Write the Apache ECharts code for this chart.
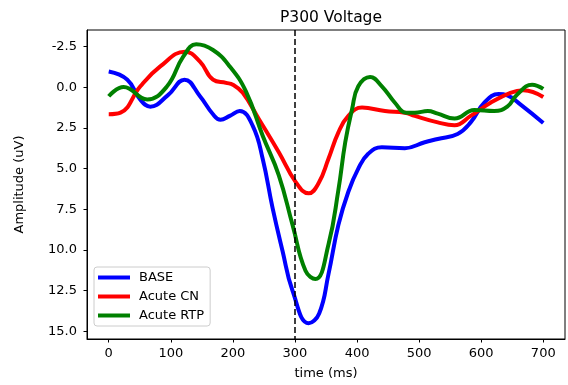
<!DOCTYPE html>
<html>
<head>
<meta charset="utf-8">
<script src="https://cdn.jsdelivr.net/npm/echarts@6/dist/echarts.min.js"></script>
<style>html,body{margin:0;padding:0;background:#fff}#c{width:568px;height:385px}</style>
</head>
<body>
<div id="c"></div>
<script>
const baseTimes = [0,30,50,67,95,122,147,168,180,195,211,232,248,264,280,296,322,339,354,370,386,402,418,440,477,509,530,562,583,605,628,642,663,700];
const baseVals  = [-0.97,-0.47,0.72,1.19,0.5,-0.47,0.55,1.66,2.0,1.76,1.46,2.37,4.39,7.43,10.06,12.49,14.5,13.9,11.48,8.45,6.42,5.0,4.09,3.68,3.74,3.38,3.18,2.87,2.16,0.95,0.42,0.5,1.05,2.2];
const cnTimes = [0,19,51,83,123,147,168,189,200,216,242,274,301,322,338,354,370,386,408,445,477,493,530,557,583,615,647,668,700];
const cnVals  = [1.66,1.56,-0.06,-1.28,-2.19,-1.58,-0.47,-0.27,-0.16,0.34,1.96,3.99,5.81,6.52,5.9,4.39,2.77,1.76,1.25,1.46,1.56,1.76,2.16,2.33,1.76,0.95,0.34,0.18,0.6];
const rtpTimes = [0,24,62,94,120,141,168,195,221,248,274,296,317,333,354,370,381,392,402,421,440,461,479,493,514,530,557,589,621,642,658,682,700];
const rtpVals  = [0.55,-0.02,0.75,-0.06,-1.88,-2.64,-2.29,-1.28,0.25,2.98,5.41,8.44,11.28,11.79,9.66,6.3,3.38,1.35,-0.06,-0.63,-0.06,0.95,1.56,1.56,1.46,1.62,1.92,1.4,1.46,1.19,0.44,-0.16,0.1];
const xTicks = [0,100,200,300,400,500,600,700];
const yTicks = [-2.5,0,2.5,5,7.5,10,12.5,15];
const markerTime = 300;

const font = 'DejaVu Sans';
const chart = echarts.init(document.getElementById('c'), null, {renderer:'canvas'});
function mk(name, ts, vals, color){
  return {name, type:'line', smooth:0.45, showSymbol:false, symbol:'none',
    data: ts.map((t,i)=>[t, vals[i]]),
    lineStyle:{color, width:4}, itemStyle:{color}, z:3};
}
const s1 = mk('BASE', baseTimes, baseVals, '#0000ff');
s1.markLine = {silent:true, symbol:'none', label:{show:false},
  lineStyle:{color:'#000', type:[6,3], width:1.5},
  data:[{xAxis: markerTime}]};
chart.setOption({
  animation:false,
  title:{text:'P300 Voltage', left:326, textAlign:'center', top:5,
    textStyle:{fontFamily:font, fontSize:15.5, fontWeight:'normal', color:'#000'}},
  grid:{left:87, right:3, top:30, bottom:44, show:true, borderColor:'#000', borderWidth:1, containLabel:false},
  legend:{left:94, top:267, orient:'vertical', icon:'rect', itemWidth:32, itemHeight:4, itemGap:6,
    backgroundColor:'#fff', borderColor:'#cccccc', borderWidth:1, borderRadius:3, padding:[4,6,4,4],
    textStyle:{fontFamily:font, fontSize:13, color:'#000', padding:[0,0,0,4]},
    data:['BASE','Acute CN','Acute RTP']},
  xAxis:{type:'value', min:-35, max:735, name:'time (ms)', nameLocation:'middle', nameGap:28,
    nameTextStyle:{fontFamily:font, fontSize:13, color:'#000'},
    axisLine:{show:true, onZero:false, lineStyle:{color:'#000', width:1}},
    axisTick:{show:true, inside:false, length:3.5, customValues:xTicks, lineStyle:{color:'#000'}},
    axisLabel:{customValues:xTicks, margin:8, fontFamily:font, fontSize:13, color:'#000'},
    splitLine:{show:false}},
  yAxis:{type:'value', inverse:true, min:-3.52, max:15.47, name:'Amplitude (uV)', nameLocation:'middle', nameGap:61,
    nameTextStyle:{fontFamily:font, fontSize:13, color:'#000'},
    axisLine:{show:true, onZero:false, lineStyle:{color:'#000', width:1}},
    axisTick:{show:true, inside:false, length:3.5, customValues:yTicks, lineStyle:{color:'#000'}},
    axisLabel:{customValues:yTicks, margin:10, fontFamily:font, fontSize:13, color:'#000',
      formatter:v=>Number(v).toFixed(1)},
    splitLine:{show:false}},
  series:[s1, mk('Acute CN', cnTimes, cnVals, '#ff0000'), mk('Acute RTP', rtpTimes, rtpVals, '#008000')]
});
</script>
</body>
</html>
